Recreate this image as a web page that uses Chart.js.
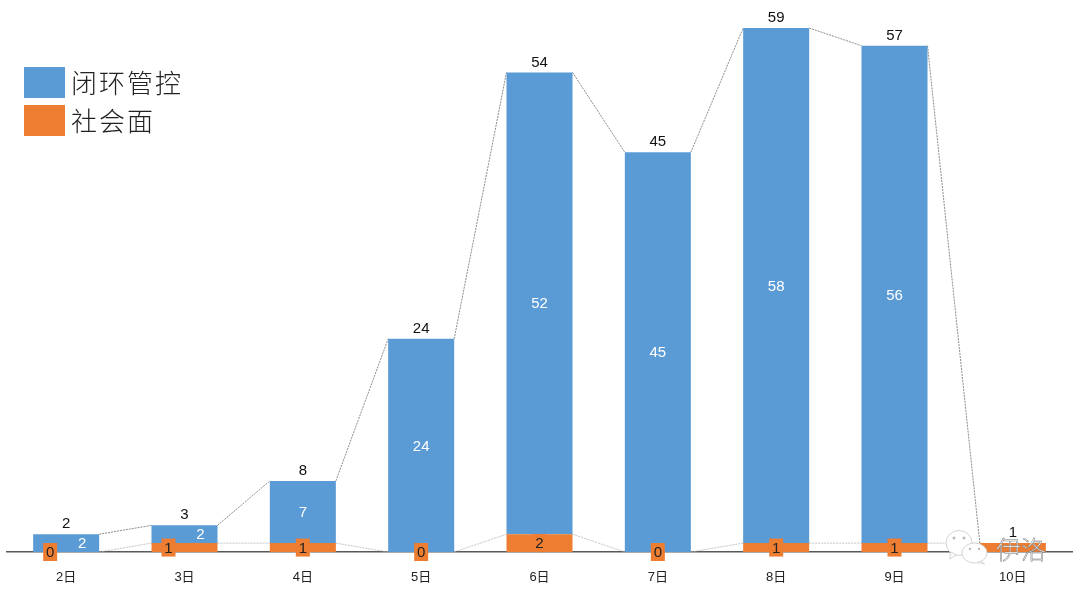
<!DOCTYPE html>
<html><head><meta charset="utf-8">
<script src="https://cdn.jsdelivr.net/npm/chart.js@4/dist/chart.umd.min.js"></script>
<style>
html,body{margin:0;padding:0;background:#fff;width:1080px;height:596px;overflow:hidden}
#wrap{position:relative;width:1080px;height:596px}
canvas{display:block}
#mark{position:absolute;left:0;top:0;pointer-events:none}
#wm{position:absolute;left:996px;top:531px;font:300 25px "Noto Sans CJK SC";color:#fff;-webkit-text-stroke:.5px #777;line-height:34px;letter-spacing:0}
</style></head>
<body><div id="wrap"><canvas id="c" width="1080" height="596"></canvas>
<svg id="mark" width="1080" height="596" fill="#fff" stroke="#d4d4d4" stroke-width="1">
<ellipse cx="959" cy="543" rx="13" ry="12.5"/><path d="M951 552l-1.500 7 7-4z"/>
<ellipse cx="974.500" cy="553" rx="12.500" ry="10"/><path d="M981 561l3.500 3-7-1.500z"/>
<g fill="#bbb" stroke="none"><circle cx="954" cy="538" r="1.500"/><circle cx="964" cy="538" r="1.500"/><circle cx="970" cy="549" r="1.200"/><circle cx="979" cy="549" r="1.200"/></g>
</svg>
<div id="wm">伊洛</div></div>
<script>
const categories = ['2日','3日','4日','5日','6日','7日','8日','9日','10日'];
const closedLoop = [2,2,7,24,52,45,58,56,0];
const community = [0,1,1,0,2,0,1,1,1];
const totals = [2,3,8,24,54,45,59,57,1];
const FONT = '"Liberation Sans","Noto Sans CJK SC",sans-serif';

const seriesLines = {
  id:'seriesLines',
  beforeDatasetsDraw(chart){
    const ctx = chart.ctx;
    ctx.save();
    chart.data.datasets.forEach((ds,di)=>{
      const els = chart.getDatasetMeta(di).data;
      ctx.strokeStyle = di===1 ? '#6e6e6e' : '#b5b5b5';
      ctx.lineWidth = .8;
      ctx.setLineDash([2,1]);
      for(let i=0;i<els.length-1;i++){
        const a=els[i], b=els[i+1];
        ctx.beginPath();
        ctx.moveTo(a.x+a.width/2,a.y);
        ctx.lineTo(b.x-b.width/2,b.y);
        ctx.stroke();
      }
    });
    ctx.restore();
  }
};
const valueLabels = {
  id:'valueLabels',
  afterDatasetsDraw(chart){
    const ctx=chart.ctx;
    const orange=chart.getDatasetMeta(0).data, blue=chart.getDatasetMeta(1).data;
    ctx.save();
    ctx.textAlign='center'; ctx.textBaseline='middle';
    ctx.font='15px '+FONT;
    categories.forEach((c,i)=>{
      const side = totals[i]<=3 && closedLoop[i]>0 ? 16 : 0;
      const o=orange[i], b=blue[i];
      if(closedLoop[i]>0){
        ctx.fillStyle='#fff';
        ctx.fillText(String(closedLoop[i]), b.x+side, (b.y+b.base)/2+1);
        const cy=(o.y+o.base)/2, t=String(community[i]);
        ctx.fillStyle='#ED7D31';
        ctx.fillRect(o.x-side-7,cy-9,14,18);
        ctx.fillStyle='#222';
        ctx.fillText(t,o.x-side,cy+1);
      }
      ctx.fillStyle='#111';
      ctx.fillText(String(totals[i]), b.x, b.y-10);
    });
    ctx.restore();
  }
};
const cornerLegend = {
  id:'cornerLegend',
  afterDraw(chart){
    const ctx=chart.ctx;
    ctx.save();
    ctx.textAlign='left'; ctx.textBaseline='middle';
    ctx.font='300 26px "Noto Sans CJK SC"';
    ctx.letterSpacing='2px';
    [...chart.data.datasets].reverse().forEach((ds,k)=>{
      const top=67+k*38;
      ctx.fillStyle=ds.backgroundColor;
      ctx.fillRect(24,top,41,31);
      ctx.fillStyle='#222';
      ctx.fillText(ds.label,71,top+16);
    });
    ctx.restore();
  }
};
new Chart(document.getElementById('c'),{
  type:'bar',
  data:{labels:categories,datasets:[
    {label:'社会面',data:community,backgroundColor:'#ED7D31',stack:'s'},
    {label:'闭环管控',data:closedLoop,backgroundColor:'#5B9BD5',stack:'s'}
  ]},
  options:{
    responsive:false,animation:false,
    layout:{padding:{top:28,left:7,right:8,bottom:0}},
    categoryPercentage:1,barPercentage:.558,
    plugins:{tooltip:{enabled:false},legend:{display:false}},
    scales:{
      x:{stacked:true,grid:{display:false,drawTicks:false},
        border:{color:'#595959',width:1.500},
        ticks:{color:'#222',padding:18,maxRotation:0,font:{family:FONT,size:13}},
        afterFit(s){s.height=44;}},
      y:{stacked:true,display:false,min:0,max:59}
    }
  },
  plugins:[seriesLines,valueLabels,cornerLegend]
});
</script></body></html>
